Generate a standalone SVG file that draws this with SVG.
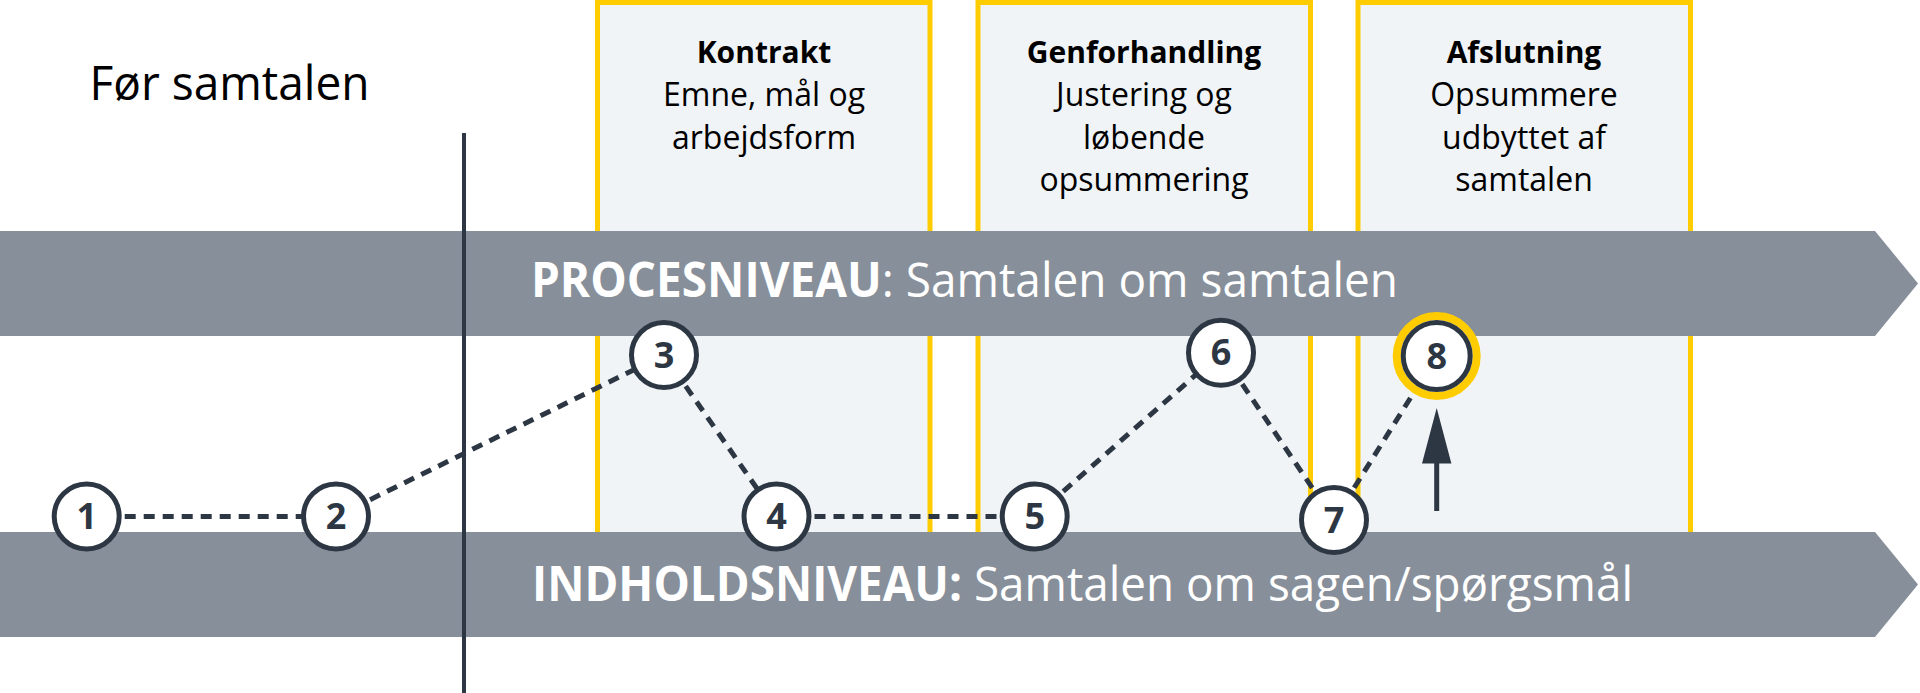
<svg xmlns="http://www.w3.org/2000/svg" width="1920" height="693" viewBox="0 0 1920 693">
<style>
.box{fill:#f0f4f7;stroke:#ffcc00;stroke-width:5}
.band{fill:#878f9a}
.bt{font-family:"Open Sans","Liberation Sans",sans-serif;font-size:32px;fill:#000;text-anchor:middle}
.bt .h{font-weight:700;font-size:30px}
.bl{font-family:"Open Sans","Liberation Sans",sans-serif;font-size:48px;fill:#fff}
.conn{stroke:#2d3743;stroke-width:5;stroke-dasharray:11 8;fill:none}
.node circle{fill:#fff;stroke:#2d3743;stroke-width:5}
.node text{font-family:"Open Sans","Liberation Sans",sans-serif;font-size:36px;font-weight:700;fill:#2d3743;text-anchor:middle}
</style>
<rect width="1920" height="693" fill="#fff"/>
<text x="89.5" y="100" font-family="Open Sans, Liberation Sans, sans-serif" font-size="48" fill="#000" textLength="280" lengthAdjust="spacingAndGlyphs">Før samtalen</text>
<g id="kontrakt">
<rect class="box" x="597.5" y="2.5" width="332.5" height="560"/>
<text class="bt"><tspan class="h" x="764" y="63">Kontrakt</tspan><tspan x="764" y="106">Emne, mål og</tspan><tspan x="764" y="148.5">arbejdsform</tspan></text>
</g>
<g id="genforhandling">
<rect class="box" x="978" y="2.5" width="332.5" height="560"/>
<text class="bt"><tspan class="h" x="1144" y="63">Genforhandling</tspan><tspan x="1144" y="106">Justering og</tspan><tspan x="1144" y="148.5">løbende</tspan><tspan x="1144" y="191">opsummering</tspan></text>
</g>
<g id="afslutning">
<rect class="box" x="1358" y="2.5" width="332.5" height="560"/>
<text class="bt"><tspan class="h" x="1524" y="63">Afslutning</tspan><tspan x="1524" y="106">Opsummere</tspan><tspan x="1524" y="148.5">udbyttet af</tspan><tspan x="1524" y="191">samtalen</tspan></text>
</g>
<g id="procesniveau">
<polygon class="band" points="0,231 1875,231 1918,283.5 1875,336 0,336"/>
</g>
<g id="indholdsniveau">
<polygon class="band" points="0,532 1875,532 1918,584.5 1875,637 0,637"/>
</g>
<line id="divider" x1="464" y1="133" x2="464" y2="693" stroke="#2d3743" stroke-width="4"/>
<text class="bl" x="531" y="297" textLength="867" lengthAdjust="spacingAndGlyphs"><tspan font-weight="700">PROCESNIVEAU</tspan>: Samtalen om samtalen</text>
<text class="bl" x="532" y="601" textLength="1101" lengthAdjust="spacingAndGlyphs"><tspan font-weight="700">INDHOLDSNIVEAU:</tspan> Samtalen om sagen/spørgsmål</text>
<g id="connectors">
<line class="conn" x1="86.7" y1="516.5" x2="336" y2="516.5"/>
<line class="conn" x1="336" y1="516.5" x2="664" y2="355"/>
<line class="conn" x1="664" y1="355" x2="776.5" y2="516.5"/>
<line class="conn" x1="776.5" y1="516.5" x2="1034.7" y2="516.5"/>
<line class="conn" x1="1034.7" y1="516.5" x2="1221" y2="352.7"/>
<line class="conn" x1="1221" y1="352.7" x2="1334" y2="520"/>
<line class="conn" x1="1334" y1="520" x2="1436.7" y2="356"/>
</g>
<g id="arrow">
<line x1="1436.7" y1="511" x2="1436.7" y2="460" stroke="#2d3743" stroke-width="5"/>
<polygon points="1436.7,408 1451.4,463.5 1422,463.5" fill="#2d3743"/>
</g>
<g id="n1" class="node"><circle cx="86.7" cy="516.5" r="32.5"/><text x="86.7" y="529">1</text></g>
<g id="n2" class="node"><circle cx="336" cy="516.5" r="32.5"/><text x="336" y="529">2</text></g>
<g id="n3" class="node"><circle cx="664" cy="355" r="32.5"/><text x="664" y="367.5">3</text></g>
<g id="n4" class="node"><circle cx="776.5" cy="516.5" r="32.5"/><text x="776.5" y="529">4</text></g>
<g id="n5" class="node"><circle cx="1034.7" cy="516.5" r="32.5"/><text x="1034.7" y="529">5</text></g>
<g id="n6" class="node"><circle cx="1221" cy="352.7" r="32.5"/><text x="1221" y="365.2">6</text></g>
<g id="n7" class="node"><circle cx="1334" cy="520" r="32.5"/><text x="1334" y="532.5">7</text></g>
<g id="n8" class="node"><circle cx="1436.7" cy="356" r="40" style="fill:#fff;stroke:#ffcc00;stroke-width:8"/><circle cx="1436.7" cy="356" r="33.5"/><text x="1436.7" y="368.5">8</text></g>
</svg>
